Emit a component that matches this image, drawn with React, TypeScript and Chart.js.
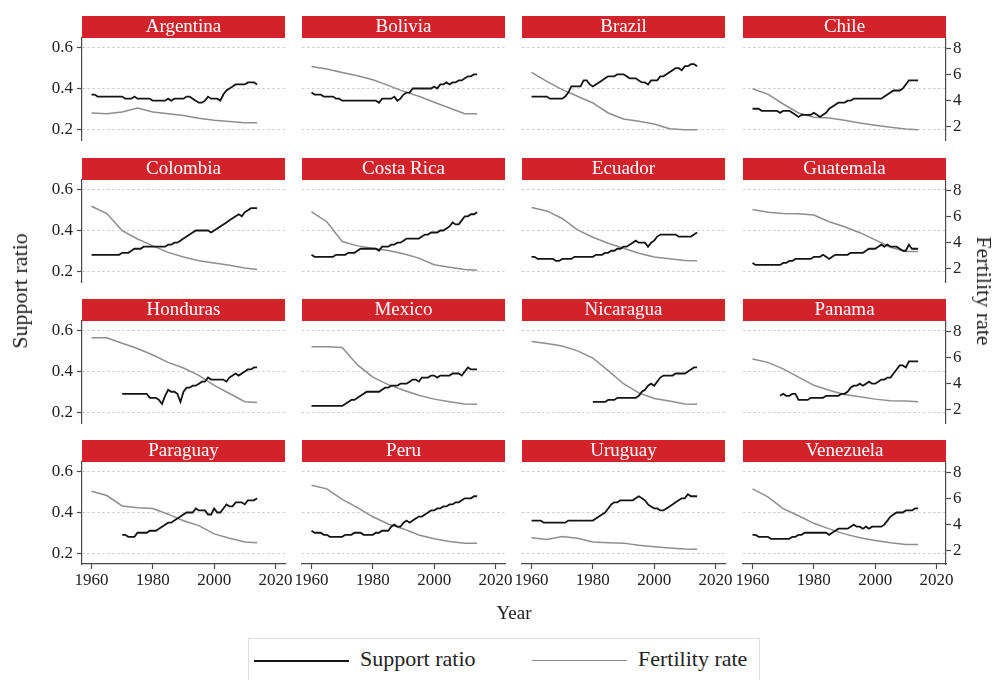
import React, { useEffect, useRef } from "react";
import { Chart, registerables } from "chart.js";

Chart.register(...registerables);

// ---------------- DATA ----------------
const COUNTRIES = [
  "Argentina", "Bolivia", "Brazil", "Chile",
  "Colombia", "Costa Rica", "Ecuador", "Guatemala",
  "Honduras", "Mexico", "Nicaragua", "Panama",
  "Paraguay", "Peru", "Uruguay", "Venezuela",
];

const SUPPORT_YEARS = [
  1960, 1961, 1962, 1963, 1964, 1965, 1966, 1967, 1968, 1969,
  1970, 1971, 1972, 1973, 1974, 1975, 1976, 1977, 1978, 1979,
  1980, 1981, 1982, 1983, 1984, 1985, 1986, 1987, 1988, 1989,
  1990, 1991, 1992, 1993, 1994, 1995, 1996, 1997, 1998, 1999,
  2000, 2001, 2002, 2003, 2004, 2005, 2006, 2007, 2008, 2009,
  2010, 2011, 2012, 2013, 2014,
];
const FERTILITY_YEARS = [1960, 1965, 1970, 1975, 1980, 1985, 1990, 1995, 2000, 2005, 2010, 2014];

const X_TICKS = [1960, 1980, 2000, 2020];
const SUPPORT_TICKS = [0.2, 0.4, 0.6];
const FERTILITY_TICKS = [2, 4, 6, 8];

const n = null;

const SUPPORT_ARGENTINA = [
  .37, .37, .36, .36, .36, .36, .36, .36, .36, .36,
  .36, .35, .35, .35, .36, .35, .35, .35, .35, .35,
  .34, .34, .34, .34, .34, .35, .34, .35, .35, .35,
  .35, .36, .36, .35, .34, .33, .33, .34, .36, .35,
  .35, .35, .34, .37, .39, .40, .41, .42, .42, .42,
  .42, .43, .43, .43, .42,
];
const SUPPORT_BOLIVIA = [
  .38, .37, .37, .37, .36, .36, .36, .36, .35, .35,
  .34, .34, .34, .34, .34, .34, .34, .34, .34, .34,
  .34, .34, .33, .35, .35, .35, .35, .36, .34, .35,
  .37, .38, .38, .40, .40, .40, .40, .40, .40, .40,
  .41, .40, .42, .42, .43, .42, .43, .43, .44, .44,
  .45, .46, .46, .47, .47,
];
const SUPPORT_BRAZIL = [
  .36, .36, .36, .36, .36, .36, .35, .35, .35, .35,
  .35, .36, .38, .41, .41, .41, .41, .44, .44, .42,
  .41, .42, .43, .44, .45, .46, .46, .46, .47, .47,
  .47, .46, .45, .45, .45, .44, .43, .43, .42, .44,
  .44, .44, .46, .46, .47, .48, .49, .50, .50, .49,
  .51, .51, .52, .52, .51,
];
const SUPPORT_CHILE = [
  .30, .30, .30, .29, .29, .29, .29, .29, .29, .28,
  .29, .29, .29, .28, .27, .26, .27, .27, .27, .27,
  .28, .27, .26, .27, .28, .30, .31, .32, .33, .33,
  .33, .34, .34, .35, .35, .35, .35, .35, .35, .35,
  .35, .35, .35, .36, .37, .38, .39, .39, .39, .40,
  .42, .44, .44, .44, .44,
];
const SUPPORT_COLOMBIA = [
  .28, .28, .28, .28, .28, .28, .28, .28, .28, .28,
  .29, .29, .29, .30, .31, .31, .31, .32, .32, .32,
  .32, .32, .32, .32, .32, .33, .33, .34, .34, .35,
  .36, .37, .38, .39, .40, .40, .40, .40, .40, .39,
  .40, .41, .42, .43, .44, .45, .46, .47, .48, .47,
  .49, .50, .51, .51, .51,
];
const SUPPORT_COSTA_RICA = [
  .28, .27, .27, .27, .27, .27, .27, .27, .28, .28,
  .28, .28, .29, .29, .29, .30, .31, .31, .31, .31,
  .31, .31, .30, .32, .32, .32, .33, .33, .34, .34,
  .35, .36, .36, .36, .36, .36, .37, .38, .38, .39,
  .39, .39, .40, .40, .41, .42, .44, .43, .43, .45,
  .47, .47, .48, .48, .49,
];
const SUPPORT_ECUADOR = [
  .27, .27, .26, .26, .26, .26, .26, .26, .25, .25,
  .26, .26, .26, .26, .27, .27, .27, .27, .27, .27,
  .27, .28, .28, .28, .29, .29, .30, .30, .31, .31,
  .32, .32, .33, .34, .35, .34, .34, .34, .32, .34,
  .35, .37, .38, .38, .38, .38, .38, .38, .37, .37,
  .37, .37, .37, .38, .39,
];
const SUPPORT_GUATEMALA = [
  .24, .23, .23, .23, .23, .23, .23, .23, .23, .23,
  .24, .24, .25, .25, .26, .26, .26, .26, .26, .26,
  .27, .27, .27, .28, .27, .26, .27, .28, .28, .28,
  .28, .28, .29, .29, .29, .29, .29, .30, .31, .31,
  .31, .32, .33, .32, .33, .32, .32, .32, .31, .30,
  .30, .33, .31, .31, .31,
];
const SUPPORT_HONDURAS = [
  n, n, n, n, n, n, n, n, n, n,
  .29, .29, .29, .29, .29, .29, .29, .29, .29, .27,
  .27, .27, .26, .24, .28, .31, .30, .30, .29, .25,
  .30, .32, .32, .33, .33, .34, .35, .35, .37, .36,
  .36, .36, .36, .36, .35, .37, .38, .39, .38, .39,
  .40, .41, .41, .42, .42,
];
const SUPPORT_MEXICO = [
  .23, .23, .23, .23, .23, .23, .23, .23, .23, .23,
  .23, .24, .25, .26, .26, .27, .28, .29, .30, .30,
  .30, .30, .30, .31, .32, .32, .33, .33, .33, .34,
  .34, .34, .35, .36, .36, .35, .37, .37, .37, .38,
  .38, .37, .38, .38, .38, .38, .39, .39, .39, .38,
  .40, .42, .41, .41, .41,
];
const SUPPORT_NICARAGUA = [
  n, n, n, n, n, n, n, n, n, n,
  n, n, n, n, n, n, n, n, n, n,
  .25, .25, .25, .25, .25, .26, .26, .26, .27, .27,
  .27, .27, .27, .27, .27, .28, .30, .31, .33, .34,
  .33, .35, .37, .38, .38, .38, .38, .39, .39, .39,
  .39, .40, .41, .42, .42,
];
const SUPPORT_PANAMA = [
  n, n, n, n, n, n, n, n, n, .28,
  .29, .28, .28, .29, .29, .26, .26, .26, .26, .27,
  .27, .27, .27, .27, .28, .28, .28, .28, .28, .29,
  .29, .30, .32, .33, .33, .34, .33, .34, .35, .34,
  .34, .35, .36, .36, .37, .37, .39, .41, .43, .43,
  .42, .45, .45, .45, .45,
];
const SUPPORT_PARAGUAY = [
  n, n, n, n, n, n, n, n, n, n,
  .29, .29, .28, .28, .28, .30, .30, .30, .30, .31,
  .31, .31, .32, .33, .34, .35, .35, .36, .37, .38,
  .39, .40, .40, .40, .42, .41, .41, .41, .39, .39,
  .42, .40, .40, .42, .44, .43, .43, .45, .45, .45,
  .44, .46, .46, .46, .47,
];
const SUPPORT_PERU = [
  .31, .30, .30, .30, .29, .29, .28, .28, .28, .28,
  .28, .29, .29, .29, .30, .30, .30, .29, .29, .29,
  .29, .30, .30, .31, .31, .31, .33, .34, .33, .33,
  .35, .36, .35, .36, .37, .38, .38, .39, .40, .41,
  .41, .42, .42, .43, .43, .44, .44, .45, .45, .46,
  .47, .47, .47, .48, .48,
];
const SUPPORT_URUGUAY = [
  .36, .36, .36, .36, .35, .35, .35, .35, .35, .35,
  .35, .35, .36, .36, .36, .36, .36, .36, .36, .36,
  .36, .37, .38, .39, .40, .42, .44, .45, .45, .46,
  .46, .46, .46, .46, .47, .48, .47, .46, .44, .43,
  .42, .42, .41, .41, .42, .43, .44, .45, .46, .47,
  .47, .49, .48, .48, .48,
];
const SUPPORT_VENEZUELA = [
  .29, .29, .28, .28, .28, .28, .27, .27, .27, .27,
  .27, .27, .27, .28, .28, .29, .29, .30, .30, .30,
  .30, .30, .30, .30, .30, .29, .30, .31, .32, .32,
  .32, .32, .33, .34, .33, .33, .32, .33, .32, .33,
  .33, .33, .33, .34, .36, .38, .39, .40, .40, .40,
  .41, .41, .41, .42, .42,
];

const FERT_ARGENTINA = [3.02, 2.97, 3.10, 3.40, 3.10, 2.97, 2.82, 2.61, 2.46, 2.36, 2.28, 2.28];
const FERT_BOLIVIA = [6.59, 6.39, 6.13, 5.88, 5.57, 5.14, 4.68, 4.30, 3.84, 3.40, 2.97, 2.97];
const FERT_BRAZIL = [6.13, 5.44, 4.81, 4.30, 3.79, 3.02, 2.56, 2.38, 2.18, 1.82, 1.74, 1.74];
const FERT_CHILE = [4.88, 4.47, 3.71, 3.02, 2.69, 2.64, 2.46, 2.26, 2.08, 1.92, 1.80, 1.74];
const FERT_COLOMBIA = [6.76, 6.20, 4.89, 4.25, 3.72, 3.22, 2.86, 2.58, 2.40, 2.23, 2.03, 1.90];
const FERT_COSTA_RICA = [6.33, 5.57, 4.05, 3.72, 3.54, 3.37, 3.11, 2.78, 2.28, 2.08, 1.90, 1.85];
const FERT_ECUADOR = [6.66, 6.40, 5.82, 4.94, 4.38, 3.92, 3.54, 3.16, 2.86, 2.73, 2.60, 2.58];
const FERT_GUATEMALA = [6.50, 6.30, 6.20, 6.18, 6.08, 5.57, 5.19, 4.73, 4.18, 3.62, 3.29, 3.29];
const FERT_HONDURAS = [7.49, 7.49, 7.06, 6.66, 6.16, 5.60, 5.17, 4.60, 3.84, 3.21, 2.58, 2.53];
const FERT_MEXICO = [6.79, 6.79, 6.74, 5.40, 4.47, 3.89, 3.46, 3.08, 2.78, 2.58, 2.40, 2.38];
const FERT_NICARAGUA = [7.19, 7.04, 6.86, 6.48, 5.93, 4.97, 3.96, 3.26, 2.83, 2.63, 2.40, 2.38];
const FERT_PANAMA = [5.85, 5.60, 5.10, 4.47, 3.84, 3.46, 3.13, 2.96, 2.78, 2.65, 2.63, 2.58];
const FERT_PARAGUAY = [6.53, 6.20, 5.40, 5.27, 5.20, 4.77, 4.27, 3.89, 3.26, 2.93, 2.63, 2.58];
const FERT_PERU = [6.99, 6.71, 5.90, 5.27, 4.57, 4.02, 3.64, 3.18, 2.88, 2.68, 2.55, 2.55];
const FERT_URUGUAY = [2.96, 2.83, 3.06, 2.93, 2.63, 2.58, 2.55, 2.38, 2.28, 2.18, 2.10, 2.08];
const FERT_VENEZUELA = [6.71, 6.10, 5.20, 4.65, 4.07, 3.64, 3.26, 2.96, 2.76, 2.58, 2.45, 2.45];

const SUPPORT = [
  SUPPORT_ARGENTINA, SUPPORT_BOLIVIA, SUPPORT_BRAZIL, SUPPORT_CHILE,
  SUPPORT_COLOMBIA, SUPPORT_COSTA_RICA, SUPPORT_ECUADOR, SUPPORT_GUATEMALA,
  SUPPORT_HONDURAS, SUPPORT_MEXICO, SUPPORT_NICARAGUA, SUPPORT_PANAMA,
  SUPPORT_PARAGUAY, SUPPORT_PERU, SUPPORT_URUGUAY, SUPPORT_VENEZUELA,
];
const FERTILITY = [
  FERT_ARGENTINA, FERT_BOLIVIA, FERT_BRAZIL, FERT_CHILE,
  FERT_COLOMBIA, FERT_COSTA_RICA, FERT_ECUADOR, FERT_GUATEMALA,
  FERT_HONDURAS, FERT_MEXICO, FERT_NICARAGUA, FERT_PANAMA,
  FERT_PARAGUAY, FERT_PERU, FERT_URUGUAY, FERT_VENEZUELA,
];

// ---------------- STYLE / LAYOUT ----------------
const FONT = "'Liberation Serif', 'Times New Roman', serif";
const RED = "#d2232a";
const TEXT = "#222222";
const AXIS = "#4a4a4a";
const GRID = "#cdcdcd";
const BLACK_LINE = "#141414";
const GRAY_LINE = "#8e8e8e";

const X_MIN = 1956.9;
const X_MAX = 2023.1;
const Y_MIN = 0.146;
const Y_MAX = 0.649;
const Y1_MIN = 0.95;
const Y1_MAX = 8.77;

const COL_LEFT = [82, 302, 522, 743];
const ROW_TOP = [38, 180, 321, 462];
const PW = 203;
const PH = 102;
const HEADER_H = 22;
const PAD_L = 60;
const PAD_R = 40;
const PAD_T = 12;
const PAD_B = 40;

function zeroPad(s: any) {
  s.paddingTop = 0;
  s.paddingBottom = 0;
  s.paddingLeft = 0;
  s.paddingRight = 0;
}

function makeConfig(i: number): any {
  const r = Math.floor(i / 4);
  const c = i % 4;
  const isLeft = c === 0;
  const isRight = c === 3;
  const isBottom = r === 3;
  const tickFont = { family: FONT, size: 17 };

  const support = SUPPORT[i]
    .map((v, k) => ({ x: SUPPORT_YEARS[k], y: v }))
    .filter((p) => p.y !== null);
  const fert = FERTILITY[i].map((v, k) => ({ x: FERTILITY_YEARS[k], y: v }));

  return {
    type: "line",
    data: {
      datasets: [
        {
          label: "Support ratio",
          data: support,
          xAxisID: "x",
          yAxisID: "y",
          borderColor: BLACK_LINE,
          borderWidth: 1.8,
          pointRadius: 0,
          fill: false,
          tension: 0,
        },
        {
          label: "Fertility rate",
          data: fert,
          xAxisID: "x",
          yAxisID: "y1",
          borderColor: GRAY_LINE,
          borderWidth: 1.5,
          pointRadius: 0,
          fill: false,
          tension: 0,
        },
      ],
    },
    options: {
      animation: false,
      responsive: false,
      maintainAspectRatio: false,
      events: [],
      layout: { padding: { top: PAD_T, left: 0, right: 0, bottom: 0 } },
      plugins: {
        legend: { display: false },
        tooltip: { enabled: false },
        title: { display: false },
      },
      scales: {
        x: {
          type: "linear",
          position: "bottom",
          min: X_MIN,
          max: X_MAX,
          afterBuildTicks: (s: any) => {
            s.ticks = X_TICKS.map((v) => ({ value: v }));
          },
          afterFit: (s: any) => {
            s.height = PAD_B;
            zeroPad(s);
          },
          ticks: {
            display: isBottom,
            font: tickFont,
            color: TEXT,
            padding: 1,
            maxRotation: 0,
            minRotation: 0,
            autoSkip: false,
            callback: (v: any) => String(v),
          },
          grid: {
            display: isBottom,
            drawOnChartArea: false,
            drawTicks: true,
            tickLength: 5,
            tickColor: AXIS,
            tickWidth: 1.2,
          },
          border: { display: isBottom, color: AXIS, width: 1.2 },
        },
        y: {
          type: "linear",
          position: "left",
          min: Y_MIN,
          max: Y_MAX,
          afterBuildTicks: (s: any) => {
            s.ticks = SUPPORT_TICKS.map((v) => ({ value: v }));
          },
          afterFit: (s: any) => {
            s.width = PAD_L;
            zeroPad(s);
          },
          ticks: {
            display: isLeft,
            font: tickFont,
            color: TEXT,
            padding: 4,
            callback: (v: any) => Number(v).toFixed(1),
          },
          grid: {
            display: true,
            drawOnChartArea: true,
            color: GRID,
            lineWidth: 1,
            drawTicks: isLeft,
            tickLength: 5,
            tickColor: AXIS,
            tickWidth: 1.2,
          },
          border: { display: isLeft, color: AXIS, width: 1.2, dash: [2.5, 2.5] },
        },
        y1: {
          type: "linear",
          position: "right",
          min: Y1_MIN,
          max: Y1_MAX,
          afterBuildTicks: (s: any) => {
            s.ticks = FERTILITY_TICKS.map((v) => ({ value: v }));
          },
          afterFit: (s: any) => {
            s.width = PAD_R;
            zeroPad(s);
          },
          ticks: {
            display: isRight,
            font: tickFont,
            color: TEXT,
            padding: 2,
            callback: (v: any) => String(v),
          },
          grid: {
            display: isRight,
            drawOnChartArea: false,
            drawTicks: true,
            tickLength: 5,
            tickColor: AXIS,
            tickWidth: 1.2,
          },
          border: { display: isRight, color: AXIS, width: 1.2 },
        },
      },
    },
  };
}

export default function App() {
  const refs = useRef<(HTMLCanvasElement | null)[]>([]);

  useEffect(() => {
    const charts: Chart[] = [];
    COUNTRIES.forEach((_, i) => {
      const cv = refs.current[i];
      if (cv) charts.push(new Chart(cv, makeConfig(i)));
    });
    return () => charts.forEach((ch) => ch.destroy());
  }, []);

  const cw = PW + PAD_L + PAD_R;
  const chh = PH + PAD_T + PAD_B;

  return (
    <div
      style={{
        position: "absolute",
        left: 0,
        top: 0,
        width: 995,
        height: 680,
        overflow: "hidden",
        background: "#ffffff",
        fontFamily: FONT,
        color: TEXT,
      }}
    >
      {COUNTRIES.map((name, i) => {
        const r = Math.floor(i / 4);
        const c = i % 4;
        const L = COL_LEFT[c];
        const T = ROW_TOP[r];
        return (
          <React.Fragment key={name}>
            <canvas
              ref={(el) => {
                refs.current[i] = el;
              }}
              width={cw}
              height={chh}
              style={{
                position: "absolute",
                left: L - PAD_L,
                top: T - PAD_T,
                width: cw,
                height: chh,
              }}
            />
            <div
              style={{
                position: "absolute",
                left: L,
                top: T - HEADER_H,
                width: PW,
                height: HEADER_H,
                background: RED,
                color: "#ffffff",
                fontSize: 19,
                lineHeight: "20px",
                textAlign: "center",
                whiteSpace: "nowrap",
              }}
            >
              {name}
            </div>
          </React.Fragment>
        );
      })}

      <div
        style={{
          position: "absolute",
          left: 20,
          top: 291,
          transform: "translate(-50%, -50%) rotate(-90deg)",
          fontSize: 22,
          lineHeight: "24px",
          whiteSpace: "nowrap",
        }}
      >
        Support ratio
      </div>
      <div
        style={{
          position: "absolute",
          left: 984,
          top: 291,
          transform: "translate(-50%, -50%) rotate(90deg)",
          fontSize: 22,
          lineHeight: "24px",
          whiteSpace: "nowrap",
        }}
      >
        Fertility rate
      </div>
      <div
        style={{
          position: "absolute",
          left: 414,
          width: 200,
          top: 601,
          textAlign: "center",
          fontSize: 19,
          lineHeight: "24px",
        }}
      >
        Year
      </div>

      <div
        style={{
          position: "absolute",
          left: 248,
          top: 638,
          width: 510,
          height: 60,
          border: "1px solid #dcdcdc",
          background: "#ffffff",
        }}
      />
      <div style={{ position: "absolute", left: 254, top: 660, width: 95, height: 0, borderTop: `2px solid ${BLACK_LINE}` }} />
      <div style={{ position: "absolute", left: 360, top: 646, fontSize: 22, lineHeight: "26px", whiteSpace: "nowrap" }}>
        Support ratio
      </div>
      <div style={{ position: "absolute", left: 532, top: 660, width: 95, height: 0, borderTop: `1.5px solid ${GRAY_LINE}` }} />
      <div style={{ position: "absolute", left: 638, top: 646, fontSize: 22, lineHeight: "26px", whiteSpace: "nowrap" }}>
        Fertility rate
      </div>
    </div>
  );
}
